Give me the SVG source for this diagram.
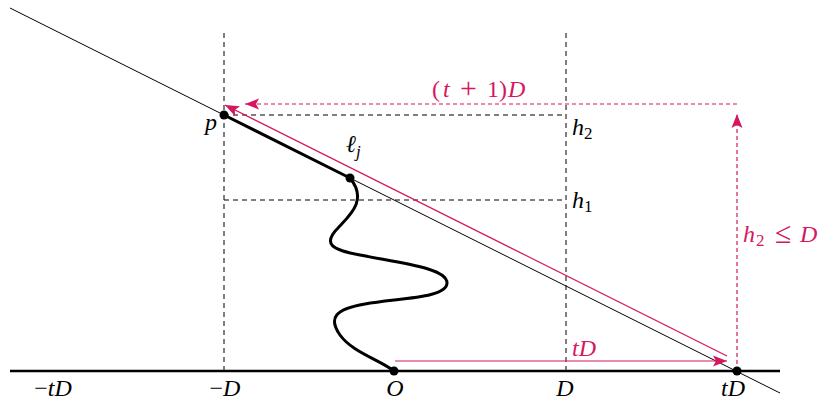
<svg xmlns="http://www.w3.org/2000/svg" width="827" height="403" viewBox="0 0 827 403">
<defs>
<style>
.thin{stroke:#000;stroke-width:1;fill:none}
.dash{stroke:#000;stroke-width:1;fill:none;stroke-dasharray:5 4}
.thick{stroke:#000;stroke-width:3;fill:none;stroke-linecap:round}
.red{stroke:#d7165f;stroke-width:1.2;fill:none}
.rdash{stroke:#d7165f;stroke-width:1.2;fill:none;stroke-dasharray:4 3}
.lbl{font-family:"Liberation Serif","Times New Roman",serif;font-size:24px;fill:#000}
.rl{fill:#d7165f}
.it{font-style:italic}
.sub{font-size:17px}
.op{font-size:30px}
</style>
<marker id="ah" markerUnits="userSpaceOnUse" markerWidth="16" markerHeight="12" viewBox="0 0 16 12" refX="14" refY="6" orient="auto">
<path d="M0,0.5 L14,6 L0,11.5 L3,6 z" fill="#d7165f"/>
</marker>
</defs>
<rect width="827" height="403" fill="#fff"/>

<g id="guides">
<line class="dash" x1="224" y1="33" x2="224" y2="371"/>
<line class="dash" x1="566" y1="33" x2="566" y2="371"/>
<line class="dash" x1="224" y1="115" x2="566" y2="115"/>
<line class="dash" x1="224" y1="200" x2="566" y2="200"/>
</g>

<g id="connectors">
<line id="axis" x1="10" y1="371" x2="780" y2="371" stroke="#000" stroke-width="2.6"/>
<line id="diag" class="thin" x1="10" y1="8" x2="780" y2="393"/>
<path id="seg-pl" class="thick" d="M224,115 L350,178"/>
<path id="curve" class="thick" d="M350,178 C368,200 350,215 338,228 C322,244 332,250 360,255 C400,263 447,268 447,283 C447,298 400,298 365,304 C335,309 328,318 340,335 C352,352 380,360 394,371"/>
<line id="red-diag" class="red" x1="727" y1="356" x2="225" y2="105" marker-end="url(#ah)"/>
<line id="red-tD" class="red" x1="395" y1="361" x2="727" y2="361" marker-end="url(#ah)"/>
<line id="red-h2" class="rdash" x1="737" y1="371" x2="737" y2="114" marker-end="url(#ah)"/>
<line id="red-t1D" class="rdash" x1="737" y1="104" x2="245" y2="104" marker-end="url(#ah)"/>
</g>

<g id="node-p"><circle cx="224" cy="115" r="4.5"/><text class="lbl it" x="211" y="130" text-anchor="middle">p</text></g>
<g id="node-lj"><circle cx="350" cy="178" r="4.5"/><text class="lbl it" x="346" y="152">ℓ<tspan class="sub" dy="5">j</tspan></text></g>
<g id="node-O"><circle cx="394" cy="371" r="4.5"/><text class="lbl it" x="395" y="396" text-anchor="middle">O</text></g>
<g id="node-tD"><circle cx="737" cy="371" r="4.5"/><text class="lbl it" x="733" y="396" text-anchor="middle">tD</text></g>
<g id="node-mtD"><text class="lbl" x="53" y="396" text-anchor="middle">−<tspan class="it">tD</tspan></text></g>
<g id="node-mD"><text class="lbl" x="225" y="396" text-anchor="middle">−<tspan class="it">D</tspan></text></g>
<g id="node-D"><text class="lbl it" x="565" y="396" text-anchor="middle">D</text></g>
<g id="node-h2"><text class="lbl" x="572" y="135"><tspan class="it">h</tspan><tspan class="sub" dy="4">2</tspan></text></g>
<g id="node-h1"><text class="lbl" x="572" y="208"><tspan class="it">h</tspan><tspan class="sub" dy="4">1</tspan></text></g>
<g id="label-t1D"><text class="lbl rl" y="97"><tspan x="432">(</tspan><tspan class="it" x="443">t</tspan><tspan class="op" x="460" dy="1">+</tspan><tspan x="487" dy="-1">1</tspan><tspan x="499">)</tspan><tspan class="it" x="508">D</tspan></text></g>
<g id="label-h2D"><text class="lbl rl" y="242"><tspan class="it" x="743">h</tspan><tspan class="sub" x="756" dy="4">2</tspan><tspan class="op" x="775" dy="-3">≤</tspan><tspan class="it" x="800" dy="-1">D</tspan></text></g>
<g id="label-tD"><text class="lbl rl it" x="572" y="356">tD</text></g>
</svg>
